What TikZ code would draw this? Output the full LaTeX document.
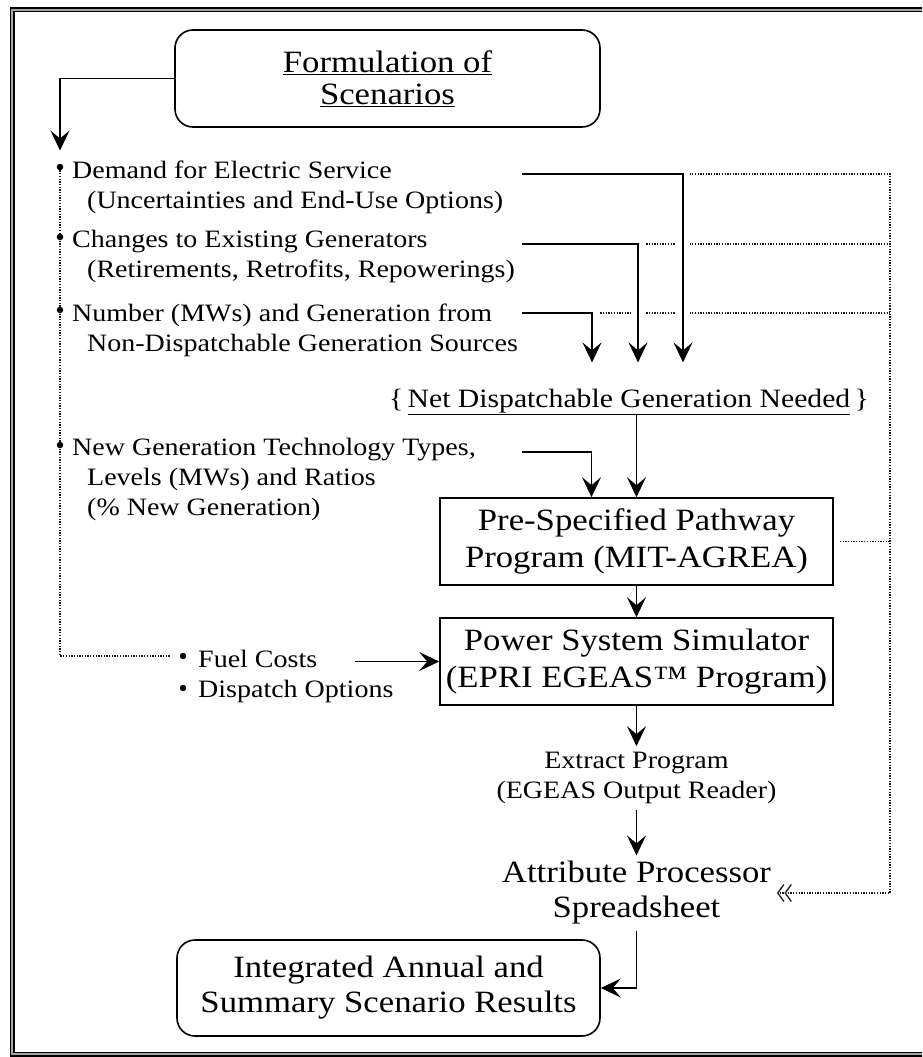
\documentclass[tikz,border=0pt]{standalone}
\usepackage{fontspec}
\setmainfont{Liberation Serif}[FakeStretch=1.12]
\usetikzlibrary{arrows.meta, positioning}

\begin{document}
\begin{tikzpicture}[
    x=1pt, y=-1pt,
    >=Stealth,
    every node/.style={inner sep=0pt},
    texto lista/.style={align=left, anchor=west, font=\fontsize{25}{30}\selectfont},
    texto flujo/.style={align=center, font=\fontsize{31}{35}\selectfont, outer sep=6pt},
    caja/.style={draw, line width=1.6pt, minimum width=393pt, minimum height=87pt, align=center, font=\fontsize{31}{37}\selectfont},
    caja redonda/.style={draw, line width=1.6pt, rounded corners=18pt, align=center},
    vineta/.style={circle, fill=black, minimum size=6.5pt},
    linea flujo/.style={draw, line width=1.6pt, -{Stealth[length=20pt,width=19pt,inset=8pt]}},
    linea flujo cruce/.style={linea flujo, preaction={draw=white, line width=14pt, -}}, % borra los puntos en los cruces
    linea punteada/.style={draw=black!90, line width=1.3pt, dash pattern=on 1.3pt off 1.4pt}
]

% ---- Marco ----
\clip (0,0) rectangle (922,1057);
\draw[line width=1.4pt, double=black!35, double distance=2.2pt] (12,10) rectangle (960,1054);

% ---- Formulacion de escenarios ----
\node[caja redonda, minimum width=425pt, minimum height=97pt, font=\fontsize{31}{32}\selectfont]
    (formulacion) at (387.5,78.5) {\underline{Formulation of}\\\underline{Scenarios}};

% ---- Lista de entradas ----
\node[vineta] (v1) at (60,167) {};
\node[vineta] (v2) at (60,237) {};
\node[vineta] (v3) at (60,310) {};
\node[vineta] (v4) at (60,445) {};
\node[vineta] (v5) at (183,656) {};
\node[vineta] (v6) at (183,688) {};

\node[texto lista] (demanda) at (72,187) {Demand for Electric Service\\\hspace*{15pt}(Uncertainties and End-Use Options)};
\node[texto lista] (cambios) at (72,257) {Changes to Existing Generators\\\hspace*{15pt}(Retirements, Retrofits, Repowerings)};
\node[texto lista] (numero) at (72,330) {Number (MWs) and Generation from\\\hspace*{15pt}Non-Dispatchable Generation Sources};
\node[texto lista] (nueva) at (72,479) {New Generation Technology Types,\\\hspace*{15pt}Levels (MWs) and Ratios\\\hspace*{15pt}(\% New Generation)};
\node[texto lista] (combustible) at (198,676) {Fuel Costs\\Dispatch Options};

% ---- Flujo central ----
\node[anchor=base, font=\fontsize{26.5}{30}\selectfont] (neta) at (629,407) {\{\,\underline{Net Dispatchable Generation Needed}\,\}};
\node[caja] (pre) at (636.5,541.5) {Pre-Specified Pathway\\Program (MIT-AGREA)};
\node[caja] (simulador) at (636.5,661.5) {Power System Simulator\\(EPRI EGEAS™ Program)};
\node[texto flujo, font=\fontsize{25}{30}\selectfont] (extraccion) at (636.5,778) {Extract Program\\(EGEAS Output Reader)};
\node[texto flujo] (atributos) at (636.5,893) {Attribute Processor\\Spreadsheet};
\node[caja redonda, minimum width=423pt, minimum height=96pt, font=\fontsize{31}{35}\selectfont]
    (resultados) at (388.5,988) {Integrated Annual and\\Summary Scenario Results};

% ---- Puntos de salida ----
\coordinate (sal demanda) at (522,174);
\coordinate (sal cambios) at (522,244);
\coordinate (sal numero) at (522,313);
\coordinate (sal nueva) at (522,452);
\coordinate (sal combustible) at (355,661.5);
\coordinate (borde) at (890,174);

% ---- Lineas punteadas ----
\draw[linea punteada, shorten >=10pt] (v1) |- (v5);
\draw[linea punteada, -{Straight Barb[length=6pt,width=17pt,line width=1.3pt]Straight Barb[length=6pt,width=17pt,line width=1.3pt]}]
    (sal demanda) -- (borde) |- (atributos.east);
\draw[linea punteada] (sal cambios) -- (sal cambios -| borde);
\draw[linea punteada] (sal numero) -- (sal numero -| borde);
\draw[linea punteada, shorten <=6pt] (pre.east) -- (pre.east -| borde);

% ---- Flechas ----
\draw[linea flujo, shorten >=13pt] (formulacion.west) -| (v1);
\draw[linea flujo cruce] (sal demanda) -| ([xshift=54pt,yshift=26pt]neta.north);
\draw[linea flujo cruce] (sal cambios) -| ([xshift=9pt,yshift=26pt]neta.north);
\draw[linea flujo cruce] (sal numero) -| ([xshift=-37pt,yshift=26pt]neta.north);
\draw[linea flujo] (sal nueva) -| ([xshift=-45pt]pre.north);
\draw[linea flujo] (neta.south -| pre.north) -- (pre.north);
\draw[linea flujo] (pre) -- (simulador);
\draw[linea flujo] (sal combustible) -- (simulador.west);
\draw[linea flujo] (simulador) -- (extraccion);
\draw[linea flujo] (extraccion) -- (atributos);
\draw[linea flujo] (atributos) |- (resultados.east);

\end{tikzpicture}
\end{document}
